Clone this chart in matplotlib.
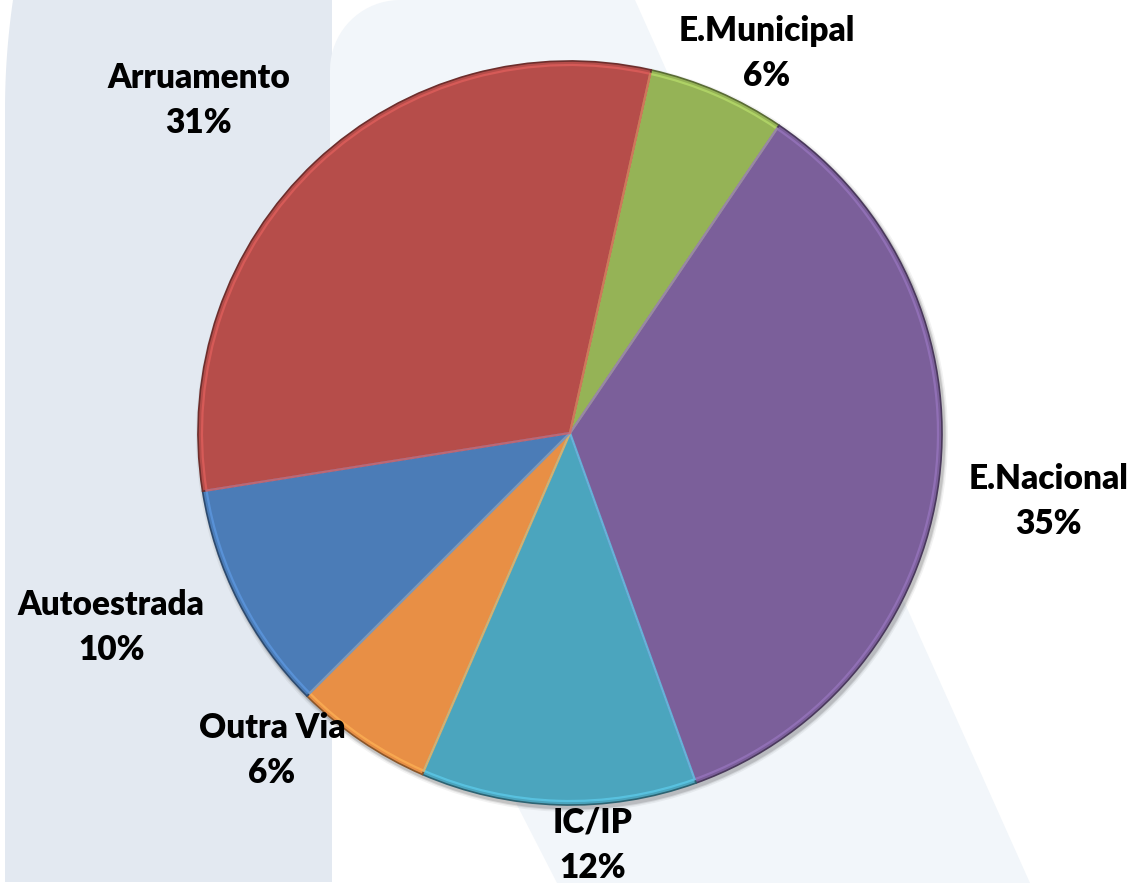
import numpy as np
import matplotlib
matplotlib.use("Agg")
import matplotlib.pyplot as plt
from matplotlib.patches import Polygon, Circle, Wedge
from matplotlib import colors as mcolors

# data
labels = ["E.Municipal", "E.Nacional", "IC/IP", "Outra Via", "Autoestrada", "Arruamento"]
values = [6, 35, 12, 6, 10, 31]
slice_colors = ["#95B356", "#7B5F9A", "#4BA5BE", "#E88F45", "#4B7CB7", "#B64D4A"]
# radial distance of each label (in pie radii) and small angle nudge (deg)
label_dist = [1.15, 1.30, 1.11, 1.17, 1.34, 1.34]
label_nudge = [-4, -1, 5, -9, -4, 5]

W, H = 1135, 883
fig = plt.figure(figsize=(W / 100, H / 100), dpi=100)
ax = fig.add_axes([0, 0, 1, 1])

# background shapes
yy = np.linspace(H - 110, H, 20)
xx = 5 + 8 * ((yy - (H - 110)) / 110) ** 2
dark_pts = np.vstack([[[5, 1]], np.column_stack([xx, yy]), [[332, H], [332, 1]]])
ax.add_patch(Polygon(dark_pts, closed=True, fc="#E3E9F1", ec="none", zorder=0))

t = np.linspace(np.pi, np.pi / 2, 20)
corner = np.column_stack([400 + 70 * np.cos(t), (H - 70) + 70 * np.sin(t)])
light_pts = np.vstack([[[330, 480]], corner, [[635, H], [1030, 0], [557, 0], [517, 78], [400, 300]]])
ax.add_patch(Polygon(light_pts, closed=True, fc="#F2F6FA", ec="none", zorder=1))

cx, cy, R = 570, 450, 372

# soft shadow behind the pie
for k, a in [(8, 0.05), (5, 0.08), (3, 0.12)]:
    ax.add_patch(Circle((cx + 2, cy - 3), R + k * 0.5, fc="black", ec="none", alpha=a, zorder=2))

wedges, _ = ax.pie(values, colors=slice_colors, startangle=77.4, counterclock=False,
                   center=(cx, cy), radius=R, frame=True,
                   wedgeprops=dict(linewidth=0, zorder=3))
ax.set_xlim(0, W)
ax.set_ylim(0, H)
ax.set_aspect("equal")
ax.axis("off")

for w, c in zip(wedges, slice_colors):
    rgb = np.array(mcolors.to_rgb(c))
    w.set_zorder(3)
    w.set_edgecolor(tuple(rgb * 0.6))
    w.set_linewidth(1.2)
    # inner highlight to mimic the bevel
    hl = Wedge((cx, cy), R - 4, w.theta1, w.theta2,
               fc="none", ec=tuple(np.minimum(rgb * 1.25, 1)),
               lw=1.6, alpha=0.7, zorder=4)
    ax.add_patch(hl)

for w, lab, v, d, n in zip(wedges, labels, values, label_dist, label_nudge):
    ang = np.deg2rad((w.theta1 + w.theta2) / 2 + n)
    x = cx + d * R * np.cos(ang)
    y = cy + d * R * np.sin(ang)
    ax.text(x, y, f"{lab}\n{v}%", ha="center", va="center", fontsize=24,
            fontweight="heavy", family="Lato", linespacing=1.5, color="black", zorder=6)

fig.savefig("out.png", dpi=100, facecolor="white")
